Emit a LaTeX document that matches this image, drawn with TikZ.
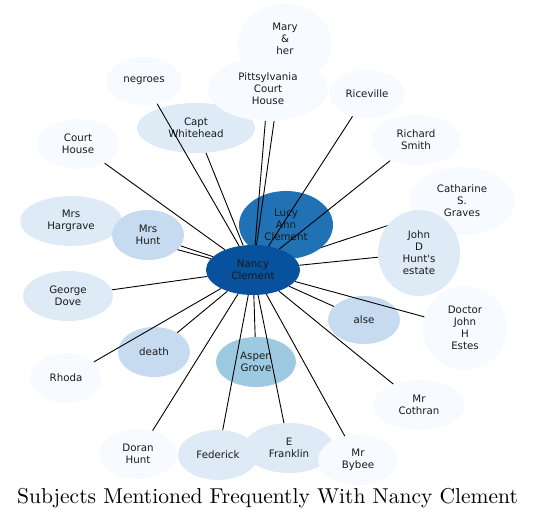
\documentclass[tikz,border=0pt]{standalone}
\usepackage{fontspec}
\newfontfamily\lblfont{DejaVu Sans}
\newfontfamily\titlefont{lmroman10-regular}[Extension=.otf]
\usetikzlibrary{shapes.geometric}
\pgfdeclarelayer{bottom}
\pgfdeclarelayer{low}
\pgfdeclarelayer{mid}
\pgfdeclarelayer{front}
\pgfsetlayers{bottom,low,mid,main,front}
\definecolor{cL}{HTML}{F7FBFF}
\definecolor{cM}{HTML}{DEEBF7}
\definecolor{cH}{HTML}{C6DBEF}
\definecolor{cA}{HTML}{9ECAE1}
\definecolor{cLucy}{HTML}{2171B5}
\definecolor{cNancy}{HTML}{08519C}
\tikzset{
  bub/.style n args={3}{ellipse, fill=#3, draw=none, inner sep=0pt,
    minimum width=#1*2bp, minimum height=#2*2bp, align=center,
    font=\lblfont\fontsize{10.3}{12}\selectfont, text=black!90},
  lbl/.style={align=center, inner sep=0pt,
    font=\lblfont\fontsize{10.3}{12}\selectfont, text=black!90},
  edge/.style={draw=black, line width=0.9bp},
  titletext/.style={font=\titlefont\fontsize{21.6}{26}\selectfont, inner sep=0pt, anchor=base}
}
\begin{document}
\begin{tikzpicture}[x=1bp,y=-1bp]
\useasboundingbox (0,0) rectangle (537,520);
\begin{pgfonlayer}{bottom}
\node[bub={47}{40}{cL}] (mary) at (285,44) {};
\node[lbl] (marytext) at (285,39) {Mary\\\&\\her};
\node[bub={38}{24}{cL}] (negroes) at (144,81) {negroes};
\node[bub={59}{25}{cM}] (capt) at (196,128) {Capt\\Whitehead};
\node[bub={38}{24}{cL}] (rice) at (367,94) {Riceville};
\node[bub={45}{25}{cL}] (richard) at (416,140) {Richard\\Smith};
\node[bub={41}{25}{cL}] (court) at (78,144) {Court\\House};
\node[bub={53}{34}{cL}] (cath) at (462,201) {Catharine\\S.\\Graves};
\node[bub={51}{25}{cM}] (harg) at (71,221) {Mrs\\Hargrave};
\node[bub={45}{25}{cM}] (george) at (68,296) {George\\Dove};
\node[bub={36}{24}{cH}] (alse) at (364,320) {alse};
\node[bub={42}{42}{cL}] (doctor) at (465,328) {Doctor\\John\\H\\Estes};
\node[bub={36}{25}{cH}] (death) at (154,352) {death};
\node[bub={36}{25}{cL}] (rhoda) at (66,378) {Rhoda};
\node[bub={40}{25}{cA}] (aspen) at (256,362) {Aspen\\Grove};
\node[bub={46}{25}{cL}] (cothran) at (419,405) {Mr\\Cothran};
\node[bub={39}{25}{cL}] (doran) at (138,454) {Doran\\Hunt};
\node[bub={40}{25}{cM}] (federick) at (218,455) {Federick};
\node[bub={45}{25}{cM}] (franklin) at (289,448) {E\\Franklin};
\node[bub={40}{25}{cL}] (bybee) at (358,460) {Mr\\Bybee};
\end{pgfonlayer}
\begin{pgfonlayer}{front}
\node[bub={60}{32}{cL}] (pitt) at (268,89) {Pittsylvania\\Court\\House};
\node[bub={36}{25}{cH}] (hunt) at (148,235) {Mrs\\Hunt};
\node[bub={47}{25}{cNancy}] (nancy) at (253,270) {Nancy\\Clement};
\end{pgfonlayer}
\begin{pgfonlayer}{mid}
\node[bub={47}{34}{cLucy}] (lucy) at (286,225) {Lucy\\Ann\\Clement};
\node[bub={41}{43}{cM}] (john) at (419,253) {John\\D\\Hunt's\\estate};
\end{pgfonlayer}
\begin{pgfonlayer}{low}
\draw[edge] (nancy) -- (cath);
\end{pgfonlayer}
% edges
\foreach \t in {mary,pitt,negroes,capt,rice,richard,court,harg,hunt,lucy,john,george,alse,doctor,death,rhoda,aspen,cothran,doran,federick,franklin,bybee}
  \draw[edge] (nancy) -- (\t);
% title
\node[titletext] (title) at (267.5,503) {Subjects Mentioned Frequently With Nancy Clement};
\end{tikzpicture}
\end{document}
